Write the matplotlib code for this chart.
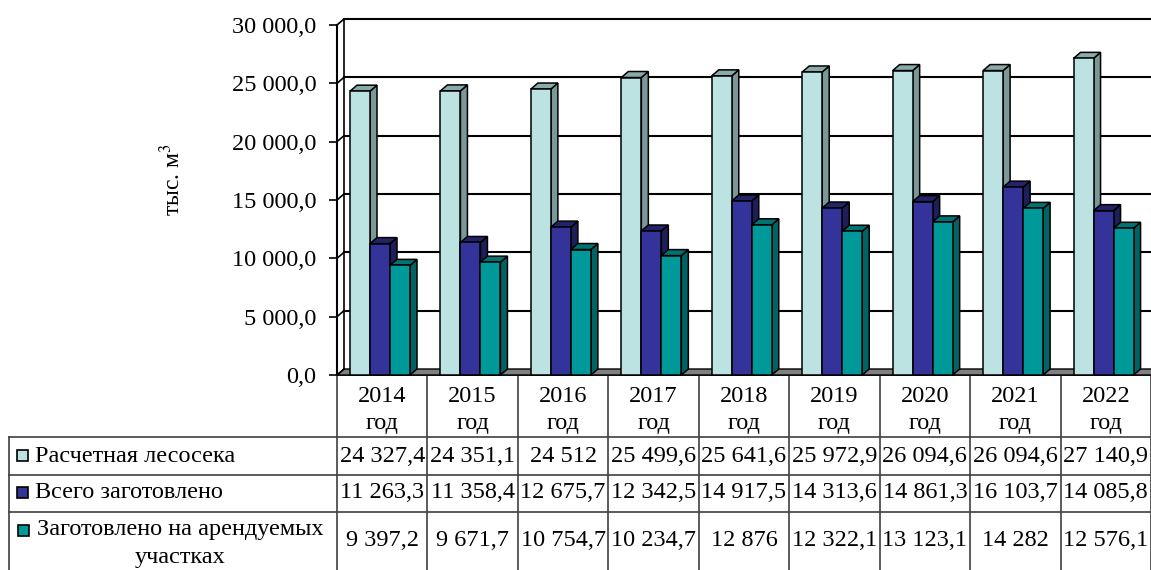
import matplotlib.pyplot as plt
from matplotlib.patches import Rectangle, Polygon
import numpy as np

plt.rcParams['font.family'] = ['Liberation Serif', 'DejaVu Serif']
plt.rcParams['mathtext.fontset'] = 'stix'

# data
years = ['2014', '2015', '2016', '2017', '2018', '2019', '2020', '2021', '2022']
series_names = ['Расчетная лесосека', 'Всего заготовлено',
                'Заготовлено на арендуемых\nучастках']
calc_cut = [24327.4, 24351.1, 24512, 25499.6, 25641.6, 25972.9, 26094.6, 26094.6, 27140.9]
total_cut = [11263.3, 11358.4, 12675.7, 12342.5, 14917.5, 14313.6, 14861.3, 16103.7, 14085.8]
lease_cut = [9397.2, 9671.7, 10754.7, 10234.7, 12876, 12322.1, 13123.1, 14282, 12576.1]

face_colors = ['#BCE2E2', '#333399', '#009999']
side_colors = ['#7A9898', '#1E1E5A', '#006464']
top_colors = ['#88AAAA', '#232368', '#007272']
FS = 17.5


def fmt(v):
    if float(v).is_integer():
        s = f'{int(v):,}'.replace(',', ' ')
    else:
        s = f'{v:,.1f}'.replace(',', ' ').replace('.', ',')
    return s


W, H = 1151, 570
fig = plt.figure(figsize=(W / 100, H / 100), dpi=100)

# full-figure pixel axes for the data table
tax = fig.add_axes([0, 0, 1, 1])
tax.set_xlim(0, W)
tax.set_ylim(H, 0)
tax.axis('off')

x0_px, y0_px, ytop_px = 337, 375, 25
col_w = (W - x0_px) / len(years)

ax = fig.add_axes([x0_px / W, (H - y0_px) / H, (W - x0_px) / W, (y0_px - ytop_px) / H])
ax.set_xlim(0, len(years))
ax.set_ylim(0, 30000)
ax.patch.set_alpha(0)

# depth offsets (data units)
dx = 7 / col_w
dy = 6 * 30000 / (y0_px - ytop_px)

ticks = np.arange(0, 30001, 5000)
ax.set_yticks(ticks)
ax.set_yticklabels(['0,0'] + [f'{t:,}'.replace(',', ' ') + ',0' for t in ticks[1:]])
ax.tick_params(axis='y', direction='out', length=6, width=1.2, pad=9, labelsize=FS)
ax.set_xticks([])
for s in ['top', 'right', 'bottom']:
    ax.spines[s].set_visible(False)
ax.spines['left'].set_linewidth(1.5)

n = len(years)
# floor
ax.add_patch(Polygon([(0, 0), (n, 0), (n + dx, dy), (dx, dy)], closed=True,
                     facecolor='#808080', edgecolor='black', lw=1, clip_on=False, zorder=1))
# back wall gridlines and left wall
for t in ticks[1:]:
    ax.plot([dx, n + dx], [t + dy, t + dy], color='black', lw=1.5, clip_on=False, zorder=1)
for t in ticks:
    ax.plot([0, dx], [t, t + dy], color='black', lw=1.2, clip_on=False, zorder=1)
ax.plot([dx, dx], [dy, 30000 + dy], color='black', lw=1.2, clip_on=False, zorder=1)
ax.set_ylabel('тыс. м$^3$', fontsize=17)
ax.yaxis.set_label_coords((185 - x0_px) / (W - x0_px), (y0_px - 180) / (y0_px - ytop_px))

# bars
bar_w = 20 / col_w
start = 13 / col_w
for i in range(n):
    for k, vals in enumerate([calc_cut, total_cut, lease_cut]):
        v = vals[i]
        xl = i + start + k * bar_w
        xr = xl + bar_w
        z = 3 + k
        ax.add_patch(Polygon([(xr, 0), (xr + dx, dy), (xr + dx, v + dy), (xr, v)], closed=True,
                             facecolor=side_colors[k], edgecolor='black', lw=1.1,
                             clip_on=False, zorder=z))
        ax.add_patch(Polygon([(xl, v), (xl + dx, v + dy), (xr + dx, v + dy), (xr, v)], closed=True,
                             facecolor=top_colors[k], edgecolor='black', lw=1.1,
                             clip_on=False, zorder=z))
        ax.add_patch(Rectangle((xl, 0), bar_w, v, facecolor=face_colors[k],
                               edgecolor='black', lw=1.1, clip_on=False, zorder=z))

# data table
rows_y = [y0_px, 437, 475, 512, H]
lc = '#404040'
tax.plot([x0_px, W], [y0_px, y0_px], color='black', lw=1.2)
for yy in rows_y[1:4]:
    tax.plot([9, W], [yy, yy], color=lc, lw=1.2)
tax.plot([9, 9], [rows_y[1], H], color=lc, lw=1.2)
for i in range(n + 1):
    xx = x0_px + i * col_w
    tax.plot([xx, xx], [y0_px, H], color=lc, lw=1.2)

for i, yr in enumerate(years):
    cx = x0_px + (i + 0.5) * col_w
    tax.text(cx, 397, yr, ha='center', va='center', fontsize=FS)
    tax.text(cx, 424, 'год', ha='center', va='center', fontsize=FS)

row_centers = [456, 493, 541]
for k, (name, vals) in enumerate(zip(series_names, [calc_cut, total_cut, lease_cut])):
    cy = row_centers[k]
    if k < 2:
        tax.add_patch(Rectangle((17, cy - 6), 11, 11, facecolor=face_colors[k],
                                edgecolor='black', lw=1.2))
        tax.text(35, cy, name, ha='left', va='center', fontsize=FS)
    else:
        l1, l2 = name.split('\n')
        tax.add_patch(Rectangle((18, 525), 11, 11, facecolor=face_colors[k],
                                edgecolor='black', lw=1.2))
        tax.text(37, 530, l1, ha='left', va='center', fontsize=FS)
        tax.text(180, 557, l2, ha='center', va='center', fontsize=FS)
    for i, v in enumerate(vals):
        cx = x0_px + (i + 0.5) * col_w
        tax.text(cx, cy, fmt(v), ha='center', va='center', fontsize=FS)

fig.savefig('out.png', dpi=100)
